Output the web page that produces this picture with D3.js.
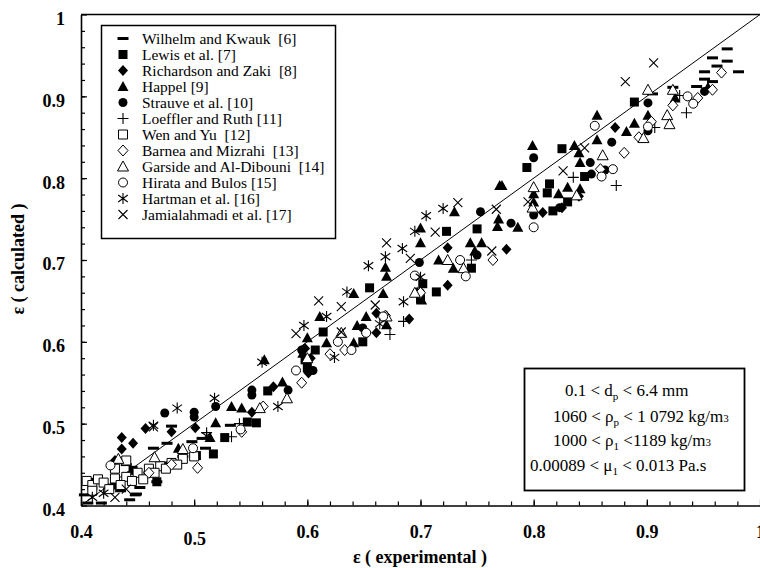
<!DOCTYPE html>
<html>
<head>
<meta charset="utf-8">
<script src="https://cdn.jsdelivr.net/npm/d3@7"></script>
<style>
  body { margin: 0; background: #fff; }
  svg text { font-family: "Liberation Serif", "DejaVu Serif", serif; }
</style>
</head>
<body>
<svg id="chart" width="760" height="568"></svg>
<script>
// ---- data: [eps experimental, eps calculated] per source ----
const wilhelm = [[0.971,0.958],[0.958,0.947],[0.971,0.943],[0.962,0.937],[0.981,0.930],[0.951,0.930],[0.951,0.921],[0.944,0.912],[0.923,0.911],[0.905,0.903],[0.958,0.918],
  [0.532,0.498],[0.507,0.482],[0.498,0.478],[0.480,0.497],[0.476,0.476],[0.464,0.470],[0.467,0.429],[0.452,0.422],[0.448,0.413],
  [0.403,0.413],[0.406,0.403],[0.418,0.403],[0.443,0.407],[0.449,0.414],[0.425,0.425],[0.435,0.418],[0.412,0.432],[0.460,0.440],[0.475,0.452],[0.490,0.460],[0.510,0.470],[0.440,0.450]];
const lewis = [[0.889,0.893],[0.825,0.836],[0.794,0.813],[0.814,0.793],[0.812,0.782],[0.830,0.771],[0.817,0.760],[0.845,0.802],
  [0.723,0.735],[0.750,0.738],[0.655,0.666],[0.702,0.671],[0.714,0.661],[0.745,0.690],[0.614,0.612],[0.607,0.590],[0.649,0.600],[0.700,0.652],
  [0.600,0.568],[0.598,0.578],[0.565,0.540],[0.517,0.463],[0.527,0.483],[0.555,0.501],[0.547,0.502],[0.502,0.461],[0.446,0.443],[0.467,0.429],[0.430,0.425]];
const richardson = [[0.872,0.862],[0.825,0.764],[0.808,0.758],[0.840,0.778],[0.724,0.715],[0.776,0.713],[0.724,0.669],[0.661,0.635],[0.661,0.611],[0.690,0.628],
  [0.601,0.562],[0.603,0.580],[0.598,0.592],[0.570,0.545],[0.551,0.514],[0.501,0.495],[0.480,0.490],[0.457,0.494],[0.446,0.476],[0.436,0.483],[0.436,0.469],[0.430,0.455]];
const happel = [[0.954,0.911],[0.925,0.898],[0.901,0.877],[0.889,0.867],[0.882,0.857],[0.856,0.847],[0.856,0.877],[0.836,0.840],[0.799,0.840],[0.840,0.831],
  [0.841,0.819],[0.830,0.789],[0.822,0.781],[0.841,0.787],[0.800,0.781],[0.800,0.771],[0.772,0.791],[0.730,0.759],[0.700,0.739],[0.700,0.721],
  [0.669,0.691],[0.670,0.680],[0.641,0.659],[0.667,0.659],[0.611,0.631],[0.652,0.631],[0.644,0.620],[0.617,0.599],[0.641,0.599],[0.670,0.621],
  [0.769,0.750],[0.768,0.741],[0.770,0.791],[0.744,0.721],[0.754,0.721],[0.716,0.700],[0.748,0.711],[0.729,0.690],[0.786,0.740],[0.697,0.661],
  [0.701,0.651],[0.519,0.501],[0.486,0.470],[0.533,0.521],[0.542,0.519],[0.514,0.483],[0.578,0.551],[0.562,0.578],[0.600,0.605],[0.596,0.586]];
const strauve = [[0.951,0.906],[0.901,0.892],[0.901,0.858],[0.869,0.844],[0.850,0.819],[0.800,0.825],[0.863,0.810],[0.851,0.805],[0.800,0.755],[0.823,0.764],
  [0.753,0.759],[0.699,0.697],[0.750,0.706],[0.649,0.617],[0.700,0.660],[0.595,0.590],[0.474,0.513],[0.500,0.514],[0.500,0.508],[0.551,0.541],
  [0.551,0.535],[0.519,0.521],[0.583,0.541],[0.600,0.575],[0.605,0.565],[0.780,0.745]];
const loeffler = [[0.929,0.901],[0.935,0.880],[0.907,0.862],[0.873,0.791],[0.835,0.801],[0.673,0.609],[0.745,0.700],[0.511,0.489],[0.533,0.484],[0.685,0.625],[0.540,0.500]];
const wen = [[0.405,0.430],[0.410,0.425],[0.415,0.432],[0.420,0.428],[0.430,0.433],[0.440,0.435],[0.450,0.440],[0.460,0.445],[0.470,0.448],[0.480,0.452],
  [0.490,0.457],[0.500,0.460],[0.410,0.418],[0.425,0.420],[0.435,0.425],[0.445,0.430],[0.455,0.432],[0.465,0.440],[0.475,0.445],[0.485,0.450],[0.440,0.455],[0.430,0.445]];
const barnea = [[0.966,0.929],[0.958,0.908],[0.945,0.898],[0.923,0.889],[0.904,0.869],[0.893,0.850],[0.880,0.831],[0.859,0.811],[0.764,0.700],[0.633,0.590],
  [0.669,0.632],[0.652,0.611],[0.542,0.490],[0.561,0.521],[0.503,0.446],[0.595,0.550],[0.480,0.450],[0.460,0.440],[0.700,0.660],[0.620,0.585]];
const garside = [[0.901,0.908],[0.923,0.908],[0.918,0.877],[0.920,0.866],[0.861,0.828],[0.897,0.849],[0.800,0.789],[0.838,0.779],[0.799,0.764],[0.724,0.700],
  [0.738,0.690],[0.695,0.660],[0.630,0.611],[0.670,0.631],[0.433,0.457],[0.465,0.459],[0.490,0.469],[0.582,0.531],[0.558,0.519],[0.600,0.580]];
const hirata = [[0.936,0.900],[0.941,0.891],[0.854,0.864],[0.860,0.802],[0.870,0.811],[0.901,0.863],[0.735,0.700],[0.740,0.680],[0.695,0.681],[0.627,0.600],
  [0.639,0.590],[0.652,0.611],[0.667,0.631],[0.426,0.449],[0.499,0.470],[0.541,0.493],[0.800,0.740],[0.590,0.565]];
const hartman = [[0.720,0.763],[0.705,0.754],[0.695,0.735],[0.684,0.714],[0.669,0.704],[0.654,0.693],[0.635,0.661],[0.617,0.631],[0.597,0.620],[0.685,0.649],
  [0.624,0.581],[0.664,0.622],[0.700,0.679],[0.485,0.519],[0.518,0.531],[0.574,0.521],[0.511,0.485],[0.464,0.498],[0.560,0.575],[0.410,0.410],[0.420,0.415]];
const jamialahmadi = [[0.906,0.941],[0.881,0.918],[0.826,0.809],[0.845,0.837],[0.795,0.771],[0.733,0.770],[0.670,0.721],[0.713,0.734],[0.691,0.702],[0.630,0.643],
  [0.630,0.612],[0.767,0.762],[0.763,0.711],[0.660,0.645],[0.464,0.496],[0.610,0.650],[0.590,0.610],[0.430,0.410],[0.440,0.420]];

const legendLabels = ["Wilhelm and Kwauk  [6]", "Lewis et al. [7]", "Richardson and Zaki  [8]", "Happel [9]", "Strauve et al. [10]",
  "Loeffler and Ruth [11]", "Wen and Yu  [12]", "Barnea and Mizrahi  [13]", "Garside and Al-Dibouni  [14]", "Hirata and Bulos [15]",
  "Hartman et al. [16]", "Jamialahmadi et al. [17]"];
const majorTicks = [0.4, 0.5, 0.6, 0.7, 0.8, 0.9, 1];

const series = [
  {data: wilhelm, shape: "dash", kind: "fill"},
  {data: lewis, shape: "square", kind: "fill"},
  {data: richardson, shape: "diamond", kind: "fill"},
  {data: happel, shape: "triangle", kind: "fill"},
  {data: strauve, shape: "circle", kind: "fill"},
  {data: loeffler, shape: "plus", kind: "line"},
  {data: wen, shape: "square", kind: "open"},
  {data: barnea, shape: "diamond", kind: "open"},
  {data: garside, shape: "triangle", kind: "open"},
  {data: hirata, shape: "circle", kind: "open"},
  {data: hartman, shape: "asterisk", kind: "line"},
  {data: jamialahmadi, shape: "times", kind: "line"}
];

const FONT = "'Liberation Serif', 'DejaVu Serif', serif";

// marker outlines, centred on 0,0
function shapePath(s) {
  switch (s) {
    case "dash": return "M-5.5,-1.5h11v3h-11z";
    case "square": return "M-4.5,-4.5h9v9h-9z";
    case "diamond": return "M0,-5.5L5,0L0,5.5L-5,0Z";
    case "triangle": return "M0,-5.5L5.5,4.5H-5.5Z";
    case "circle": return "M4.5,0A4.5,4.5 0 1,1 -4.5,0A4.5,4.5 0 1,1 4.5,0Z";
    case "plus": return "M-5.5,0H5.5M0,-5.5V5.5";
    case "times": return "M-4.5,-4.5L4.5,4.5M-4.5,4.5L4.5,-4.5";
    case "asterisk": return "M0,-5.5V5.5M-4.8,-3.5L4.8,3.5M-4.8,3.5L4.8,-3.5";
  }
}
function styleMark(sel, kind) {
  if (kind === "fill") sel.attr("fill", "#000").attr("stroke", "none");
  else if (kind === "open") sel.attr("fill", "#fff").attr("stroke", "#000").attr("stroke-width", 1);
  else sel.attr("fill", "none").attr("stroke", "#000").attr("stroke-width", 1.1);
}

const svg = d3.select("#chart");
const x = d3.scaleLinear().domain([0.4, 1]).range([81, 760]);
const y = d3.scaleLinear().domain([0.4, 1]).range([505.5, 14.5]);
const minorTicks = d3.range(0.42, 0.999, 0.02);
const fmt = d => d === 1 ? "1" : d3.format(".1f")(d);

// minor ticks
svg.append("g").attr("transform", "translate(0,505.5)")
  .call(d3.axisBottom(x).tickValues(minorTicks).tickSize(-4).tickFormat(""))
  .call(g => g.select(".domain").remove());
svg.append("g").attr("transform", "translate(81,0)")
  .call(d3.axisLeft(y).tickValues(minorTicks).tickSize(-4).tickFormat(""))
  .call(g => g.select(".domain").remove());

// major axes
const xAxis = svg.append("g").attr("transform", "translate(0,505.5)")
  .call(d3.axisBottom(x).tickValues(majorTicks).tickSizeInner(-6).tickSizeOuter(0).tickPadding(20).tickFormat(fmt));
xAxis.selectAll("text").filter(d => d === 0.5).attr("dy", "1.1em");
const yAxis = svg.append("g").attr("transform", "translate(81,0)")
  .call(d3.axisLeft(y).tickValues(majorTicks).tickSizeInner(-6).tickSizeOuter(0).tickPadding(16).tickFormat(fmt));
yAxis.selectAll("text").attr("dy", "0.55em");
svg.selectAll("g").attr("font-family", null);
svg.selectAll(".tick line").attr("stroke", "#000").attr("stroke-width", 1.2);
svg.selectAll(".domain").attr("stroke", "#000").attr("stroke-width", 1.6);
svg.selectAll(".tick text").style("font-family", FONT).attr("font-size", 18)
  .attr("font-weight", "bold").attr("fill", "#000");
svg.append("line").attr("x1", x(0.4)).attr("x2", x(1)).attr("y1", y(1)).attr("y2", y(1))
  .attr("stroke", "#000").attr("stroke-width", 1.6);

// axis titles
svg.append("text").attr("x", 420).attr("y", 563).attr("text-anchor", "middle").style("font-family", FONT)
  .attr("font-size", 18).attr("font-weight", "bold").text("ε ( experimental )");
svg.append("text").attr("transform", "translate(24,259) rotate(-90)").attr("text-anchor", "middle").style("font-family", FONT)
  .attr("font-size", 18).attr("font-weight", "bold").text("ε ( calculated )");

// 1:1 line
svg.append("line").attr("x1", x(0.4)).attr("y1", y(0.4)).attr("x2", x(1)).attr("y2", y(1))
  .attr("stroke", "#000").attr("stroke-width", 1);

// points
series.forEach(s => {
  svg.append("g").selectAll("path").data(s.data).join("path")
    .attr("d", shapePath(s.shape))
    .attr("transform", d => `translate(${x(d[0])},${y(d[1])})`)
    .call(styleMark, s.kind);
});

// legend
const leg = svg.append("g");
leg.append("rect").attr("x", 101.5).attr("y", 25.5).attr("width", 234).attr("height", 213)
  .attr("fill", "#fff").attr("stroke", "#000").attr("stroke-width", 1.5);
series.forEach((s, i) => {
  const yy = 38.5 + i * 16;
  leg.append("path").attr("d", shapePath(s.shape)).attr("transform", `translate(123,${yy})`).call(styleMark, s.kind);
  leg.append("text").attr("x", 142).attr("y", yy + 5).attr("font-size", 15.5).style("font-family", FONT)
    .style("white-space", "pre").text(legendLabels[i]);
});

// property ranges box
const box = svg.append("g");
box.append("rect").attr("x", 524.5).attr("y", 368.5).attr("width", 220).attr("height", 122)
  .attr("fill", "#fff").attr("stroke", "#000").attr("stroke-width", 1.8);
const lines = [
  {x: 565, y: 396, parts: [["0.1 < d"], ["p", "sub"], [" < 6.4 mm"]]},
  {x: 553, y: 422, parts: [["1060 < ρ"], ["p", "sub"], [" < 1 0792 kg/m"], ["3", "small"]]},
  {x: 553, y: 446, parts: [["1000 < ρ"], ["1", "sub"], [" <1189 kg/m"], ["3", "small"]]},
  {x: 530, y: 471, parts: [["0.00089 < μ"], ["1", "sub"], [" < 0.013 Pa.s"]]}
];
lines.forEach(l => {
  const t = box.append("text").attr("x", l.x).attr("y", l.y).attr("font-size", 17)
    .style("font-family", FONT).style("white-space", "pre");
  l.parts.forEach((p, k) => {
    const ts = t.append("tspan").text(p[0]);
    if (p[1] === "sub") ts.attr("font-size", 11).attr("dy", 4);
    else if (p[1] === "small") ts.attr("font-size", 11);
    else if (k > 0) ts.attr("dy", -4);
  });
});
</script>
</body>
</html>
